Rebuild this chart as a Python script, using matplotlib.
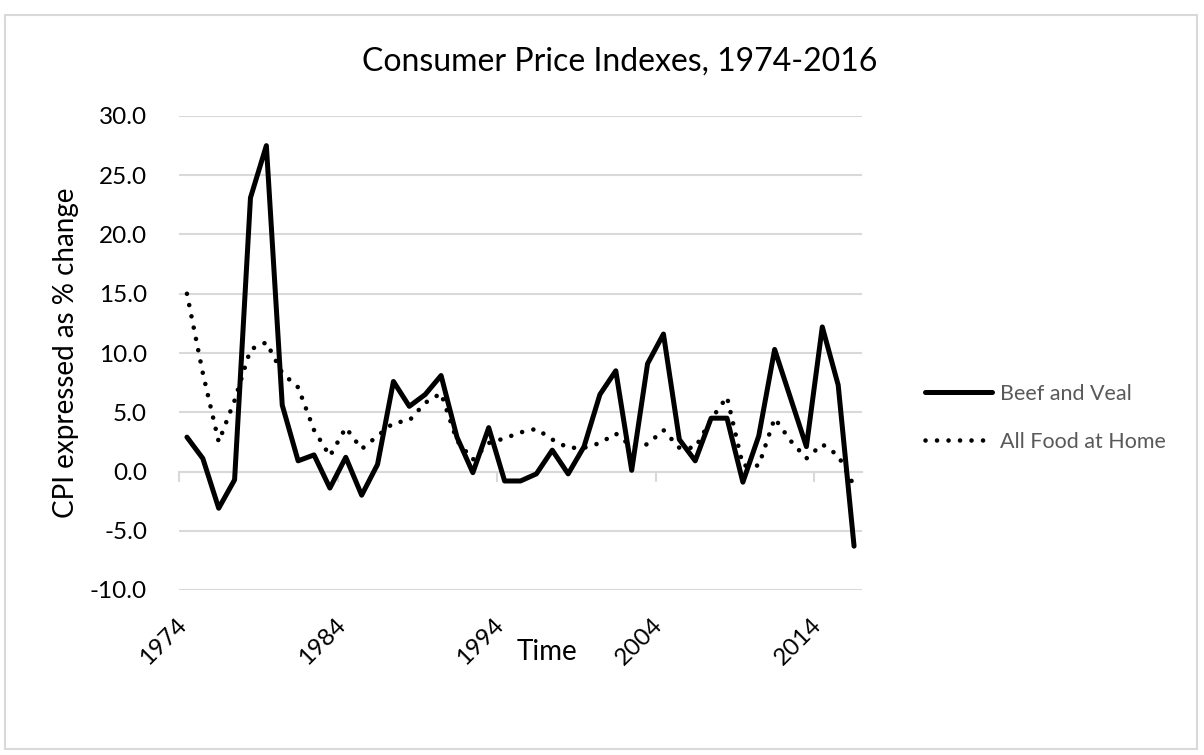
"""Consumer Price Indexes, beef and veal vs all food at home, 1974-2016."""

import matplotlib
matplotlib.use("Agg")
import matplotlib.pyplot as plt
from matplotlib.lines import Line2D
from matplotlib.patches import Rectangle
from matplotlib.transforms import ScaledTranslation
import numpy as np

years = list(range(1974, 2017))
beef_veal = [2.9, 1.1, -3.1, -0.7, 23.1, 27.5, 5.6, 0.9, 1.4, -1.4,
             1.2, -2.0, 0.6, 7.6, 5.5, 6.5, 8.1, 2.9, -0.1, 3.7,
             -0.8, -0.8, -0.2, 1.8, -0.2, 2.1, 6.5, 8.5, 0.1, 9.1,
             11.6, 2.7, 0.9, 4.5, 4.5, -0.9, 3.0, 10.3, 6.2, 2.1,
             12.2, 7.3, -6.3]
food_at_home = [15.0, 8.3, 2.5, 6.0, 10.3, 10.9, 8.3, 7.1, 3.5, 1.3,
                3.7, 1.9, 3.0, 4.1, 4.3, 5.8, 6.6, 2.6, 1.0, 2.4,
                2.8, 3.3, 3.6, 2.7, 2.0, 2.0, 2.4, 3.2, 2.1, 2.3,
                3.5, 2.0, 2.0, 4.4, 6.3, 0.5, 0.5, 4.5, 2.6, 1.1,
                2.3, 1.35, -1.2]
label_years = [1974, 1984, 1994, 2004, 2014]

plt.rcParams["font.family"] = ["Lato", "DejaVu Sans"]
GRID = "#d9d9d9"

W, H = 1204, 755
fig = plt.figure(figsize=(W / 100, H / 100), dpi=100)

# plot area in pixels: x 179..862, y 116..590
left, right, top, bottom = 179, 862, 116, 590
ax = fig.add_axes([left / W, 1 - bottom / H, (right - left) / W, (bottom - top) / H])

x = np.arange(len(years))
dot = Line2D([], [], color="black", lw=3.3, dashes=(0.01, 2.5),
             dash_capstyle="round")
ax.plot(x, food_at_home, color="black", lw=3.3, dashes=(0.01, 2.5),
        dash_capstyle="round", solid_joinstyle="round", zorder=3)
ax.plot(x, beef_veal, color="black", lw=3.6, solid_joinstyle="round",
        solid_capstyle="round", zorder=4)

ax.set_xlim(-0.5, len(years) - 0.5)
ax.set_ylim(-10, 30)
ax.set_yticks(np.arange(-10, 31, 5))
ax.set_yticklabels([f"{v:.1f}" for v in np.arange(-10, 31, 5)])
ax.grid(axis="y", color=GRID, lw=1.5)
ax.set_axisbelow(True)
for s in ax.spines.values():
    s.set_visible(False)

ax.tick_params(axis="y", length=0, pad=23, labelsize=17.5)
idx = [years.index(y) for y in label_years]
ax.set_xticks(idx)
ax.set_xticklabels([str(y) for y in label_years], rotation=45, ha="right",
                   va="center", rotation_mode="anchor")
ax.tick_params(axis="x", length=0, pad=23, labelsize=17.5)
for lab in ax.get_xticklabels():
    lab.set_transform(lab.get_transform()
                      + ScaledTranslation(-0.04, 0, fig.dpi_scale_trans))

# horizontal axis line crossing at zero with tick marks between categories
sec = ax.secondary_xaxis(0.25)
sec.spines["bottom"].set_color(GRID)
sec.spines["bottom"].set_linewidth(1.5)
sec.set_xticks([i - 0.5 for i in idx])
sec.set_xticklabels([])
sec.tick_params(axis="x", length=7, width=1.5, color=GRID)

fig.text(620 / W, 1 - 62 / H, "Consumer Price Indexes, 1974-2016",
         ha="center", va="center", fontsize=23)
fig.text(66 / W, 1 - 353 / H, "CPI expressed as % change", rotation=90,
         ha="center", va="center", fontsize=20)
fig.text(547 / W, 1 - 652 / H, "Time", ha="center", va="center", fontsize=20)

handles = [Line2D([], [], color="black", lw=3.6, solid_capstyle="round"), dot]
fig.legend(handles, ["Beef and Veal", "All Food at Home"],
           loc="center left", bbox_to_anchor=(925 / W, 1 - 418 / H),
           frameon=False, fontsize=15.5, labelcolor="#595959",
           handlelength=3.1, handletextpad=0.4, labelspacing=1.3,
           borderpad=0, borderaxespad=0)

fig.patches.append(Rectangle((5 / W, 1 - 749 / H), 1192 / W, 734 / H,
                             transform=fig.transFigure, fill=False,
                             edgecolor=GRID, lw=1.5))

fig.savefig("out.png", dpi=100)
